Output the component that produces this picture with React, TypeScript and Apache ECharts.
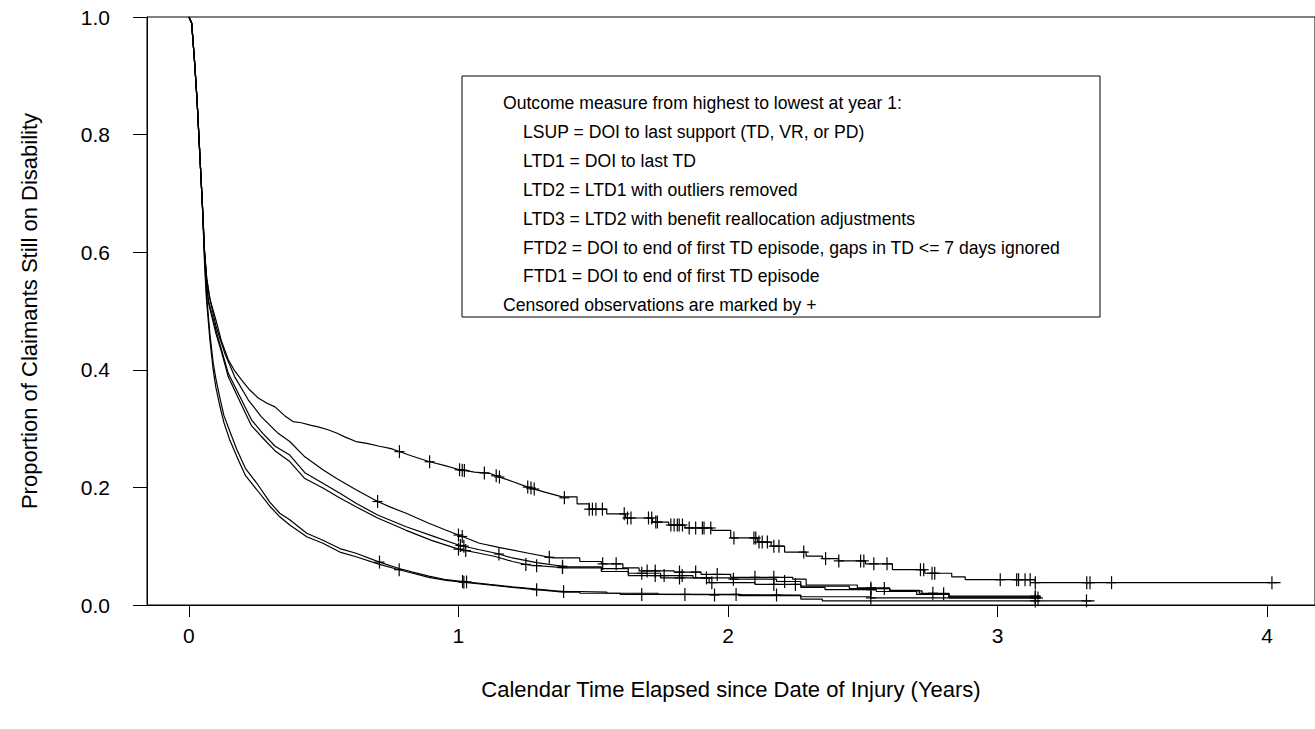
import React, { useEffect, useRef } from "react";
import * as echarts from "echarts";

// Kaplan-Meier curves: [years since injury, proportion still on disability]
const LSUP: number[][] = [
  [0, 1], [0.01, 0.99], [0.02, 0.93], [0.03, 0.86], [0.04, 0.77], [0.05, 0.68], [0.058, 0.6],
  [0.066, 0.555], [0.078, 0.52], [0.1, 0.485], [0.12, 0.45], [0.146, 0.417], [0.17, 0.398],
  [0.195, 0.383], [0.225, 0.366], [0.257, 0.352], [0.29, 0.343], [0.319, 0.337], [0.355, 0.322],
  [0.386, 0.312], [0.417, 0.31], [0.45, 0.306], [0.479, 0.303], [0.516, 0.298], [0.55, 0.292],
  [0.578, 0.286], [0.62, 0.278], [0.66, 0.275], [0.707, 0.27], [0.75, 0.266], [0.78, 0.261],
  [0.83, 0.253], [0.89, 0.244], [0.95, 0.237], [1.004, 0.23], [1.06, 0.226], [1.115, 0.224],
  [1.15, 0.218], [1.2, 0.21], [1.26, 0.2], [1.32, 0.192], [1.385, 0.184], [1.44, 0.172],
  [1.485, 0.163], [1.55, 0.155], [1.62, 0.148], [1.72, 0.141], [1.78, 0.136], [1.84, 0.131],
  [1.94, 0.127], [2.01, 0.114], [2.11, 0.107], [2.16, 0.1], [2.21, 0.09], [2.29, 0.083],
  [2.35, 0.079], [2.41, 0.075], [2.51, 0.07], [2.61, 0.06], [2.73, 0.054], [2.83, 0.048],
  [2.88, 0.043], [3.14, 0.038], [4.05, 0.038],
];
const LTD1: number[][] = [
  [0, 1], [0.01, 0.99], [0.02, 0.93], [0.03, 0.86], [0.04, 0.77], [0.05, 0.68], [0.058, 0.6],
  [0.066, 0.555], [0.078, 0.52], [0.1, 0.475], [0.133, 0.428], [0.17, 0.388], [0.22, 0.349],
  [0.269, 0.32], [0.331, 0.292], [0.374, 0.278], [0.43, 0.252], [0.497, 0.23], [0.548, 0.215],
  [0.62, 0.196], [0.7, 0.176], [0.75, 0.166], [0.806, 0.156], [0.89, 0.139], [0.95, 0.128],
  [1.0, 0.119], [1.078, 0.105], [1.15, 0.098], [1.26, 0.088], [1.35, 0.08], [1.45, 0.074],
  [1.53, 0.07], [1.61, 0.063], [1.67, 0.058], [1.8, 0.056], [1.9, 0.052], [2.01, 0.047],
  [2.24, 0.044], [2.29, 0.034], [2.48, 0.029], [2.6, 0.025], [2.71, 0.02], [2.82, 0.015],
  [3.16, 0.015],
];
const LTD2: number[][] = [
  [0, 1], [0.01, 0.99], [0.02, 0.93], [0.03, 0.86], [0.04, 0.77], [0.05, 0.68], [0.058, 0.6],
  [0.066, 0.55], [0.072, 0.519], [0.1, 0.468], [0.121, 0.434], [0.146, 0.394], [0.183, 0.36],
  [0.232, 0.315], [0.274, 0.292], [0.32, 0.27], [0.374, 0.255], [0.43, 0.225], [0.497, 0.207],
  [0.56, 0.19], [0.62, 0.173], [0.7, 0.153], [0.806, 0.133], [0.9, 0.118], [1.0, 0.102],
  [1.078, 0.094], [1.14, 0.088], [1.2, 0.08], [1.29, 0.072], [1.4, 0.065], [1.53, 0.062],
  [1.63, 0.054], [1.75, 0.05], [1.87, 0.046], [2.01, 0.044], [2.18, 0.04], [2.27, 0.032],
  [2.45, 0.028], [2.6, 0.024], [2.72, 0.019], [2.82, 0.014], [3.16, 0.014],
];
const LTD3: number[][] = [
  [0, 1], [0.01, 0.99], [0.02, 0.93], [0.03, 0.86], [0.04, 0.77], [0.05, 0.68], [0.058, 0.6],
  [0.066, 0.545], [0.072, 0.515], [0.1, 0.462], [0.121, 0.43], [0.146, 0.388], [0.183, 0.352],
  [0.232, 0.305], [0.274, 0.284], [0.32, 0.262], [0.374, 0.244], [0.43, 0.215], [0.497, 0.199],
  [0.56, 0.182], [0.62, 0.167], [0.7, 0.148], [0.806, 0.127], [0.9, 0.11], [1.0, 0.095],
  [1.078, 0.088], [1.14, 0.082], [1.2, 0.074], [1.26, 0.068], [1.4, 0.063], [1.53, 0.057],
  [1.63, 0.05], [1.75, 0.046], [1.93, 0.038], [2.1, 0.035], [2.27, 0.03], [2.36, 0.026],
  [2.55, 0.023], [2.7, 0.018], [2.82, 0.012], [3.16, 0.012],
];
const FTD2: number[][] = [
  [0, 1], [0.01, 0.99], [0.02, 0.93], [0.03, 0.86], [0.04, 0.77], [0.05, 0.68], [0.058, 0.59],
  [0.065, 0.53], [0.078, 0.46], [0.09, 0.412], [0.1, 0.385], [0.115, 0.352], [0.13, 0.322],
  [0.152, 0.295], [0.178, 0.264], [0.21, 0.232], [0.252, 0.207], [0.3, 0.175], [0.337, 0.156],
  [0.374, 0.145], [0.437, 0.122], [0.497, 0.11], [0.56, 0.096], [0.62, 0.088], [0.707, 0.073],
  [0.78, 0.062], [0.83, 0.056], [0.89, 0.049], [0.955, 0.043], [1.015, 0.04], [1.115, 0.035],
  [1.2, 0.031], [1.29, 0.027], [1.39, 0.023], [1.45, 0.022], [1.55, 0.02], [1.74, 0.018],
  [2.04, 0.016], [2.27, 0.014], [2.53, 0.012], [3.16, 0.012],
];
const FTD1: number[][] = [
  [0, 1], [0.01, 0.99], [0.02, 0.93], [0.03, 0.86], [0.04, 0.77], [0.05, 0.68], [0.058, 0.58],
  [0.065, 0.52], [0.078, 0.45], [0.09, 0.4], [0.1, 0.37], [0.115, 0.338], [0.13, 0.31],
  [0.152, 0.28], [0.183, 0.247], [0.21, 0.22], [0.252, 0.196], [0.3, 0.168], [0.337, 0.15],
  [0.374, 0.136], [0.437, 0.116], [0.497, 0.105], [0.56, 0.09], [0.62, 0.082], [0.707, 0.069],
  [0.78, 0.06], [0.83, 0.054], [0.89, 0.047], [0.955, 0.042], [1.015, 0.039], [1.115, 0.034],
  [1.2, 0.03], [1.29, 0.026], [1.39, 0.022], [1.45, 0.02], [1.6, 0.018], [1.74, 0.017],
  [2.27, 0.01], [2.35, 0.007], [3.36, 0.007],
];

// Censoring times (years) for each curve
const LSUP_CENS = [
  0.781, 0.893, 1.004, 1.014, 1.022, 1.096, 1.14, 1.152, 1.257, 1.269, 1.281, 1.393, 1.485, 1.497,
  1.51, 1.534, 1.615, 1.627, 1.64, 1.705, 1.717, 1.732, 1.738, 1.788, 1.8, 1.812, 1.819, 1.831,
  1.856, 1.88, 1.905, 1.911, 1.936, 2.022, 2.096, 2.103, 2.115, 2.127, 2.146, 2.17, 2.189, 2.281,
  2.362, 2.411, 2.492, 2.504, 2.541, 2.59, 2.714, 2.726, 2.757, 2.767, 3.01, 3.071, 3.078, 3.102,
  3.121, 3.14, 3.331, 3.343, 3.423, 4.018,
];
const LTD1_CENS = [0.7, 1.0, 1.014, 1.337, 1.535, 1.585, 1.7, 1.73, 1.82, 1.88, 1.96, 2.1, 2.17, 2.53, 2.76, 3.14];
const LTD2_CENS = [1.007, 1.02, 1.15, 1.386, 1.68, 1.763, 1.83, 1.92, 2.02, 2.21, 2.58, 2.8];
const LTD3_CENS = [1.0, 1.027, 1.25, 1.29, 1.386, 1.73, 1.82, 1.94, 2.17, 2.25, 2.53, 3.14];
const FTD2_CENS = [0.707, 1.015, 1.03, 1.39, 1.84, 2.03, 2.53, 3.15];
const FTD1_CENS = [0.78, 1.02, 1.29, 1.68, 1.95, 2.18, 3.14, 3.33];

const X_TICKS = [0, 1, 2, 3, 4];
const Y_TICKS = [0, 0.2, 0.4, 0.6, 0.8, 1.0];

const LEGEND_TITLE = "Outcome measure from highest to lowest at year 1:";
const LEGEND_LINES = [
  "LSUP = DOI to last support (TD, VR, or PD)",
  "LTD1 = DOI to last TD",
  "LTD2 = LTD1 with outliers removed",
  "LTD3 = LTD2 with benefit reallocation adjustments",
  "FTD2 = DOI to end of first TD episode, gaps in TD <= 7 days ignored",
  "FTD1 = DOI to end of first TD episode",
];
const LEGEND_FOOT = "Censored observations are marked by +";

const CURVES = [
  { name: "LSUP", data: LSUP, cens: LSUP_CENS },
  { name: "LTD1", data: LTD1, cens: LTD1_CENS },
  { name: "LTD2", data: LTD2, cens: LTD2_CENS },
  { name: "LTD3", data: LTD3, cens: LTD3_CENS },
  { name: "FTD2", data: FTD2, cens: FTD2_CENS },
  { name: "FTD1", data: FTD1, cens: FTD1_CENS },
];

// dense early part drawn as a continuous trace, later sparse part as steps
const STEP_FROM = 1.4;

function survivalAt(curve: number[][], t: number): number {
  if (t <= STEP_FROM) {
    for (let i = 1; i < curve.length; i++) {
      const [t0, s0] = curve[i - 1];
      const [t1, s1] = curve[i];
      if (t >= t0 && t <= t1) return s0 + ((t - t0) / (t1 - t0)) * (s1 - s0);
    }
  }
  let v = curve[0][1];
  for (const [ti, si] of curve) {
    if (ti <= t) v = si;
    else break;
  }
  return v;
}

const FONT = "'Liberation Sans', Arial, Helvetica, sans-serif";

export default function App() {
  const ref = useRef<HTMLDivElement>(null);
  useEffect(() => {
    if (!ref.current) return;
    const chart = echarts.init(ref.current, undefined, { renderer: "svg" });

    const series: any[] = [];
    CURVES.forEach((c) => {
      const early = c.data.filter((p) => p[0] <= STEP_FROM);
      const late = c.data.filter((p) => p[0] >= early[early.length - 1][0]);
      series.push({
        name: c.name,
        type: "line",
        data: early,
        symbol: "none",
        silent: true,
        lineStyle: { color: "#000", width: 1.2 },
        z: 3,
      });
      series.push({
        name: c.name + " later",
        type: "line",
        step: "end",
        data: late,
        symbol: "none",
        silent: true,
        lineStyle: { color: "#000", width: 1.2 },
        z: 3,
      });
      series.push({
        name: c.name + " censored",
        type: "custom",
        silent: true,
        data: c.cens.map((t) => [t, survivalAt(c.data, t)]),
        renderItem: (_p: any, api: any) => {
          const p = api.coord([api.value(0), api.value(1)]);
          return {
            type: "group",
            children: [
              { type: "line", shape: { x1: p[0], y1: p[1] - 6.5, x2: p[0], y2: p[1] + 6.5 }, style: { stroke: "#000", lineWidth: 1.2 } },
              { type: "line", shape: { x1: p[0] - 5, y1: p[1], x2: p[0] + 5, y2: p[1] }, style: { stroke: "#000", lineWidth: 1.2 } },
            ],
          };
        },
        z: 4,
      });
    });

    const legendX = 462, legendY = 76, legendW = 638, legendH = 241;
    const lineGap = 28.9;
    const legendFont = 17.6;
    const legendTexts: any[] = [];
    legendTexts.push({
      type: "text",
      style: { text: LEGEND_TITLE, x: 503, y: 103, fill: "#000", fontSize: legendFont, fontFamily: FONT, verticalAlign: "middle" },
    });
    LEGEND_LINES.forEach((s, i) => {
      legendTexts.push({
        type: "text",
        style: { text: s, x: 523, y: 103 + lineGap * (i + 1), fill: "#000", fontSize: legendFont, fontFamily: FONT, verticalAlign: "middle" },
      });
    });
    legendTexts.push({
      type: "text",
      style: { text: LEGEND_FOOT, x: 503, y: 103 + lineGap * 7, fill: "#000", fontSize: legendFont, fontFamily: FONT, verticalAlign: "middle" },
    });

    chart.setOption({
      animation: false,
      backgroundColor: "#fff",
      textStyle: { fontFamily: FONT },
      grid: {
        left: 147,
        top: 17,
        width: 1170,
        height: 588,
        show: true,
        borderColor: "#000",
        borderWidth: 1,
        backgroundColor: "transparent",
      },
      xAxis: {
        type: "value",
        min: -42 / 270,
        max: 1128 / 270,
        name: "Calendar Time Elapsed since Date of Injury (Years)",
        nameLocation: "middle",
        nameGap: 73,
        nameTextStyle: { color: "#000", fontSize: 22, fontFamily: FONT },
        axisLine: { show: true, onZero: false, lineStyle: { color: "#000", width: 1 } },
        axisTick: { show: true, length: 12, customValues: X_TICKS, lineStyle: { color: "#000" } },
        axisLabel: { show: true, customValues: X_TICKS, margin: 20, color: "#000", fontSize: 21, fontFamily: FONT, formatter: (v: number) => String(v) },
        splitLine: { show: false },
      },
      yAxis: {
        type: "value",
        min: 0,
        max: 1,
        interval: 0.2,
        name: "Proportion of Claimants Still on Disability",
        nameLocation: "middle",
        nameGap: 107,
        nameTextStyle: { color: "#000", fontSize: 22, fontFamily: FONT },
        axisLine: { show: true, onZero: false, lineStyle: { color: "#000", width: 1 } },
        axisTick: { show: true, length: 14, customValues: Y_TICKS, lineStyle: { color: "#000" } },
        axisLabel: { show: true, customValues: Y_TICKS, margin: 37, color: "#000", fontSize: 21, fontFamily: FONT, formatter: (v: number) => v.toFixed(1) },
        splitLine: { show: false },
      },
      graphic: [
        {
          type: "rect",
          shape: { x: legendX, y: legendY, width: legendW, height: legendH },
          style: { fill: "#fff", stroke: "#000", lineWidth: 1 },
          z: 10,
        },
        ...legendTexts.map((t) => ({ ...t, z: 11 })),
      ],
      series,
    });

    return () => chart.dispose();
  }, []);

  return (
    <div
      ref={ref}
      style={{ position: "absolute", left: 0, top: 0, width: 1315, height: 729, background: "#fff" }}
    />
  );
}
